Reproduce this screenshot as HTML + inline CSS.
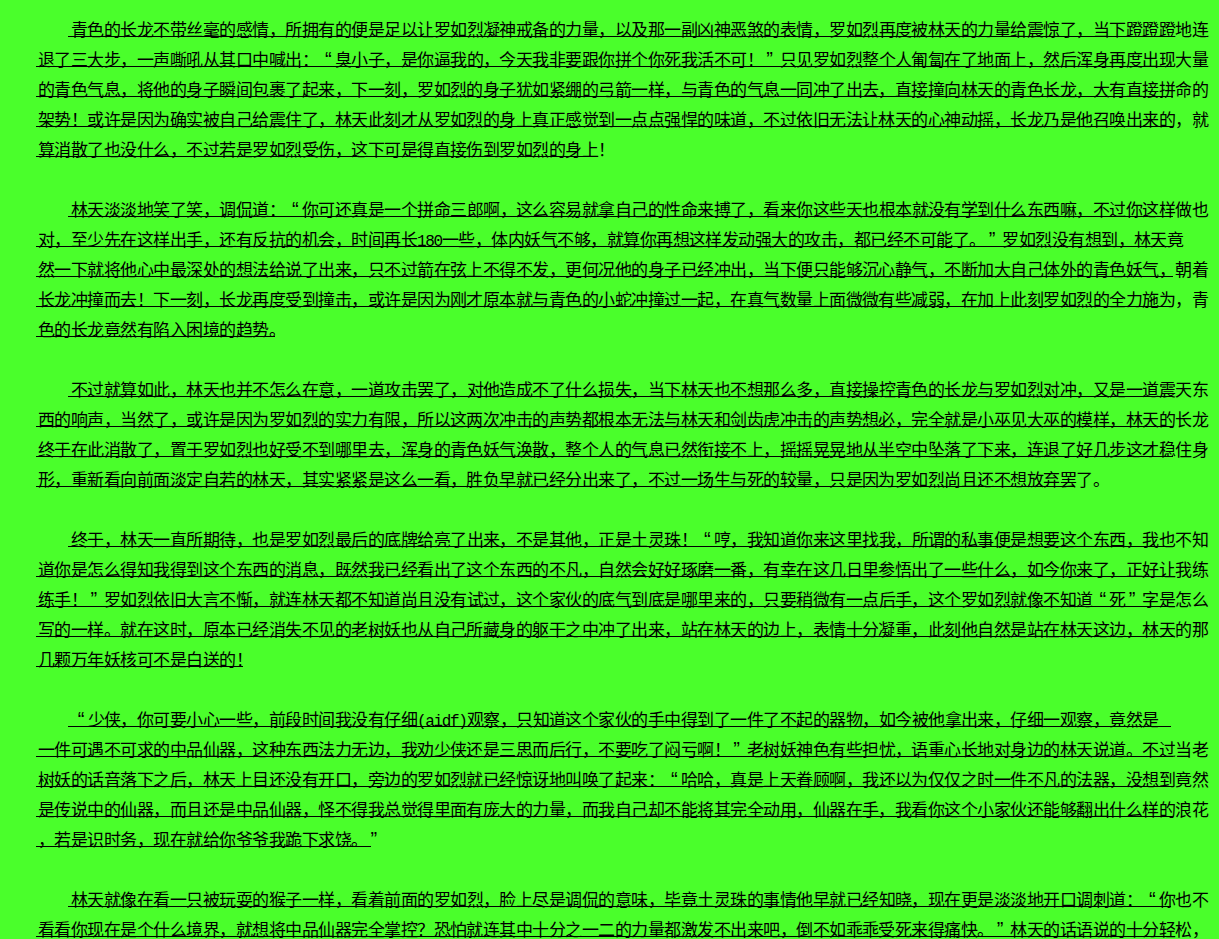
<!DOCTYPE html>
<html lang="zh-CN"><head><meta charset="utf-8"><title>page</title>
<style>
html,body{margin:0;padding:0;background:#4aff2b;}
body{width:1219px;height:939px;overflow:hidden;position:relative;}
.l{position:absolute;left:38px;margin-top:16px;height:30px;line-height:30px;white-space:nowrap;font-family:"Liberation Sans", sans-serif;font-size:17px;letter-spacing:-0.52px;color:#000;font-weight:400;}
.l i{font-style:normal;display:inline-block;letter-spacing:0;line-height:0;}
.qo{width:16.5px;box-sizing:border-box;padding-right:3px;text-align:right;font-size:20px;}
.qc{width:16.5px;box-sizing:border-box;padding-left:3px;text-align:left;font-size:20px;}
.h{width:8.25px;text-align:center;font-family:"Liberation Mono",monospace;font-size:16px;}
.sp{width:16.5px;}
.u{position:absolute;height:1px;background:#000;}
</style></head><body>
<div class="l" style="top:0px"><i class="sp"></i><i class="sp"></i>青色的长龙不带丝毫的感情，所拥有的便是足以让罗如烈凝神戒备的力量，以及那一副凶神恶煞的表情，罗如烈再度被林天的力量给震惊了，当下蹬蹬蹬地连</div>
<div class="u" style="top:36px;left:68px;width:1105px"></div>
<div class="l" style="top:30px">退了三大步，一声嘶吼从其口中喊出：<i class="qo">“</i>臭小子，是你逼我的，今天我非要跟你拼个你死我活不可！<i class="qc">”</i>只见罗如烈整个人匍匐在了地面上，然后浑身再度出现大量</div>
<div class="u" style="top:66px;left:36px;width:1137px"></div>
<div class="l" style="top:60px">的青色气息，将他的身子瞬间包裹了起来，下一刻，罗如烈的身子犹如紧绷的弓箭一样，与青色的气息一同冲了出去，直接撞向林天的青色长龙，大有直接拼命的</div>
<div class="u" style="top:96px;left:36px;width:1137px"></div>
<div class="l" style="top:90px">架势！或许是因为确实被自己给震住了，林天此刻才从罗如烈的身上真正感觉到一点点强悍的味道，不过依旧无法让林天的心神动摇，长龙乃是他召唤出来的，就</div>
<div class="u" style="top:126px;left:36px;width:1137px"></div>
<div class="l" style="top:120px">算消散了也没什么，不过若是罗如烈受伤，这下可是得直接伤到罗如烈的身上！</div>
<div class="u" style="top:156px;left:36px;width:561px"></div>
<div class="l" style="top:180px"><i class="sp"></i><i class="sp"></i>林天淡淡地笑了笑，调侃道：<i class="qo">“</i>你可还真是一个拼命三郎啊，这么容易就拿自己的性命来搏了，看来你这些天也根本就没有学到什么东西嘛，不过你这样做也</div>
<div class="u" style="top:216px;left:68px;width:1105px"></div>
<div class="l" style="top:210px">对，至少先在这样出手，还有反抗的机会，时间再长<i class="h">1</i><i class="h">8</i><i class="h">0</i>一些，体内妖气不够，就算你再想这样发动强大的攻击，都已经不可能了。<i class="qc">”</i>罗如烈没有想到，林天竟</div>
<div class="u" style="top:246px;left:36px;width:1134px"></div>
<div class="l" style="top:240px">然一下就将他心中最深处的想法给说了出来，只不过箭在弦上不得不发，更何况他的身子已经冲出，当下便只能够沉心静气，不断加大自己体外的青色妖气，朝着</div>
<div class="u" style="top:276px;left:36px;width:1137px"></div>
<div class="l" style="top:270px">长龙冲撞而去！下一刻，长龙再度受到撞击，或许是因为刚才原本就与青色的小蛇冲撞过一起，在真气数量上面微微有些减弱，在加上此刻罗如烈的全力施为，青</div>
<div class="u" style="top:306px;left:36px;width:1137px"></div>
<div class="l" style="top:300px">色的长龙竟然有陷入困境的趋势。</div>
<div class="u" style="top:336px;left:36px;width:239px"></div>
<div class="l" style="top:360px"><i class="sp"></i><i class="sp"></i>不过就算如此，林天也并不怎么在意，一道攻击罢了，对他造成不了什么损失，当下林天也不想那么多，直接操控青色的长龙与罗如烈对冲，又是一道震天东</div>
<div class="u" style="top:396px;left:68px;width:1105px"></div>
<div class="l" style="top:390px">西的响声，当然了，或许是因为罗如烈的实力有限，所以这两次冲击的声势都根本无法与林天和剑齿虎冲击的声势想必，完全就是小巫见大巫的模样，林天的长龙</div>
<div class="u" style="top:426px;left:36px;width:1137px"></div>
<div class="l" style="top:420px">终于在此消散了，置于罗如烈也好受不到哪里去，浑身的青色妖气涣散，整个人的气息已然衔接不上，摇摇晃晃地从半空中坠落了下来，连退了好几步这才稳住身</div>
<div class="u" style="top:456px;left:36px;width:1137px"></div>
<div class="l" style="top:450px">形，重新看向前面淡定自若的林天，其实紧紧是这么一看，胜负早就已经分出来了，不过一场生与死的较量，只是因为罗如烈尚且还不想放弃罢了。</div>
<div class="u" style="top:486px;left:36px;width:1039px"></div>
<div class="l" style="top:510px"><i class="sp"></i><i class="sp"></i>终于，林天一直所期待，也是罗如烈最后的底牌给亮了出来，不是其他，正是土灵珠！<i class="qo">“</i>哼，我知道你来这里找我，所谓的私事便是想要这个东西，我也不知</div>
<div class="u" style="top:546px;left:68px;width:1105px"></div>
<div class="l" style="top:540px">道你是怎么得知我得到这个东西的消息，既然我已经看出了这个东西的不凡，自然会好好琢磨一番，有幸在这几日里参悟出了一些什么，如今你来了，正好让我练</div>
<div class="u" style="top:576px;left:36px;width:1137px"></div>
<div class="l" style="top:570px">练手！<i class="qc">”</i>罗如烈依旧大言不惭，就连林天都不知道尚且没有试过，这个家伙的底气到底是哪里来的，只要稍微有一点后手，这个罗如烈就像不知道<i class="qo">“</i>死<i class="qc">”</i>字是怎么</div>
<div class="u" style="top:606px;left:36px;width:1137px"></div>
<div class="l" style="top:600px">写的一样。就在这时，原本已经消失不见的老树妖也从自己所藏身的躯干之中冲了出来，站在林天的边上，表情十分凝重，此刻他自然是站在林天这边，林天的那</div>
<div class="u" style="top:636px;left:36px;width:1137px"></div>
<div class="l" style="top:630px">几颗万年妖核可不是白送的！</div>
<div class="u" style="top:666px;left:36px;width:207px"></div>
<div class="l" style="top:690px"><i class="sp"></i><i class="sp"></i><i class="qo">“</i>少侠，你可要小心一些，前段时间我没有仔细<i class="h">(</i><i class="h">a</i><i class="h">i</i><i class="h">d</i><i class="h">f</i><i class="h">)</i>观察，只知道这个家伙的手中得到了一件了不起的器物，如今被他拿出来，仔细一观察，竟然是</div>
<div class="u" style="top:726px;left:68px;width:1103px"></div>
<div class="l" style="top:720px">一件可遇不可求的中品仙器，这种东西法力无边，我劝少侠还是三思而后行，不要吃了闷亏啊！<i class="qc">”</i>老树妖神色有些担忧，语重心长地对身边的林天说道。不过当老</div>
<div class="u" style="top:756px;left:36px;width:1137px"></div>
<div class="l" style="top:750px">树妖的话音落下之后，林天上目还没有开口，旁边的罗如烈就已经惊讶地叫唤了起来：<i class="qo">“</i>哈哈，真是上天眷顾啊，我还以为仅仅之时一件不凡的法器，没想到竟然</div>
<div class="u" style="top:786px;left:36px;width:1137px"></div>
<div class="l" style="top:780px">是传说中的仙器，而且还是中品仙器，怪不得我总觉得里面有庞大的力量，而我自己却不能将其完全动用，仙器在手，我看你这个小家伙还能够翻出什么样的浪花</div>
<div class="u" style="top:816px;left:36px;width:1137px"></div>
<div class="l" style="top:810px">，若是识时务，现在就给你爷爷我跪下求饶。<i class="qc">”</i></div>
<div class="u" style="top:846px;left:36px;width:335px"></div>
<div class="l" style="top:870px"><i class="sp"></i><i class="sp"></i>林天就像在看一只被玩耍的猴子一样，看着前面的罗如烈，脸上尽是调侃的意味，毕竟土灵珠的事情他早就已经知晓，现在更是淡淡地开口调刺道：<i class="qo">“</i>你也不</div>
<div class="u" style="top:906px;left:68px;width:1103px"></div>
<div class="l" style="top:900px">看看你现在是个什么境界，就想将中品仙器完全掌控？恐怕就连其中十分之一二的力量都激发不出来吧，倒不如乖乖受死来得痛快。<i class="qc">”</i>林天的话语说的十分轻松，</div>
<div class="u" style="top:936px;left:36px;width:1138px"></div>
</body></html>
